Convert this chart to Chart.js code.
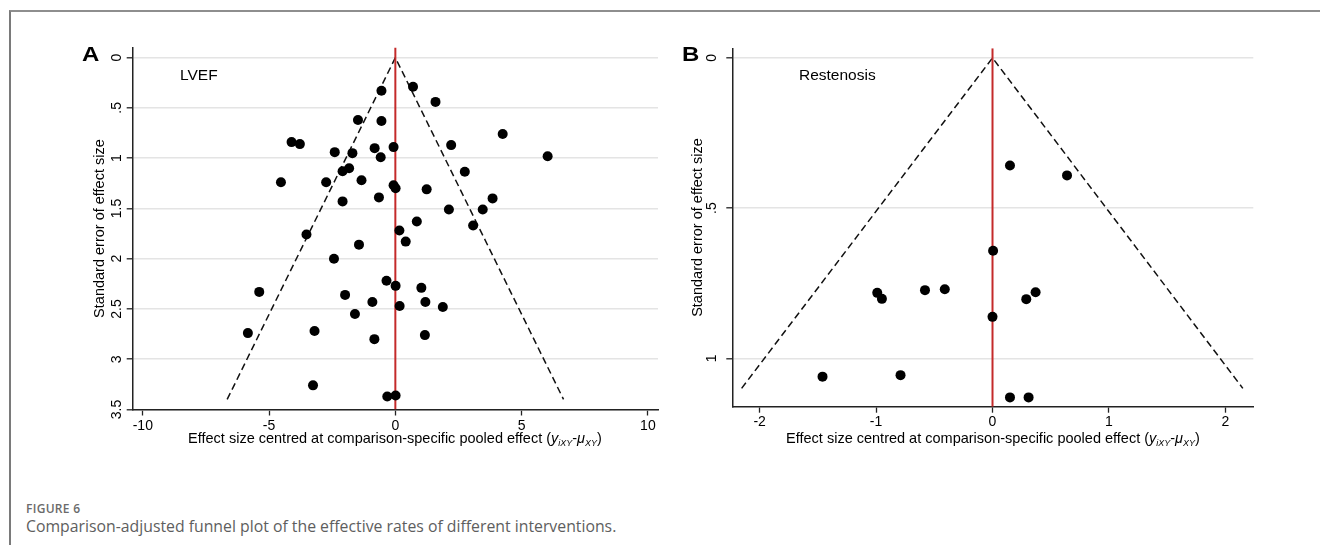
<!DOCTYPE html>
<html>
<head>
<meta charset="utf-8">
<script src="https://cdn.jsdelivr.net/npm/chart.js@4.4.1/dist/chart.umd.min.js"></script>
<style>
  html, body { margin: 0; padding: 0; background: #fff; }
  #fig { position: relative; width: 1320px; height: 545px; overflow: hidden; font-family: "Liberation Sans", Arial, sans-serif; }
  .frame { position: absolute; left: 9px; top: 10px; right: -2px; bottom: -2px; border-top: 2px solid #8e8e8e; border-left: 2px solid #7a7a7a; }
  canvas { position: absolute; top: 0; }
  .panel { position: absolute; font-weight: bold; font-size: 20px; line-height: 1; color: #000; transform: scaleX(1.2); transform-origin: left top; }
  .inner { position: absolute; font-size: 15.5px; line-height: 1; color: #000; }
  .xt { position: absolute; width: 600px; text-align: center; font-size: 14.5px; line-height: 1; color: #000; white-space: nowrap; }
  .xt sub { font-size: 0.62em; vertical-align: -0.35em; line-height: 0; }
  .cap1 { position: absolute; left: 26px; top: 500px; font-family: "Open Sans", sans-serif; font-weight: 600; font-size: 12px; color: #6b6b6b; letter-spacing: 0.3px; }
  .cap2 { position: absolute; left: 26px; top: 515px; font-family: "Open Sans", sans-serif; font-size: 15.8px; color: #5e5e5e; white-space: nowrap; }
</style>
</head>
<body>
<div id="fig">
  <div class="frame"></div>
  <canvas id="chartA" width="670" height="470" style="left:0;width:670px;height:470px"></canvas>
  <canvas id="chartB" width="650" height="470" style="left:670px;width:650px;height:470px"></canvas>
  <div class="panel" style="left:82px;top:44px">A</div>
  <div class="panel" style="left:682px;top:44px">B</div>
  <div class="inner" style="left:180px;top:67px">LVEF</div>
  <div class="inner" style="left:799px;top:67px">Restenosis</div>
  <div class="xt" style="left:95px;top:431px">Effect size centred at comparison-specific pooled effect (<i>y</i><sub><i>iXY</i></sub>-<i>μ</i><sub><i>XY</i></sub>)</div>
  <div class="xt" style="left:693px;top:431px">Effect size centred at comparison-specific pooled effect (<i>y</i><sub><i>iXY</i></sub>-<i>μ</i><sub><i>XY</i></sub>)</div>
  <div class="cap1">FIGURE 6</div>
  <div class="cap2">Comparison-adjusted funnel plot of the effective rates of different interventions.</div>
</div>
<script>
// Panel A - LVEF : effect centred (x) vs standard error (y)
const lvefX  = [-0.55, 0.70, 1.59, -1.48, -0.55, 4.25, -4.11, -3.78, -2.40, -1.70, -0.82, -0.58, -0.07, 2.21, 6.03,
                -1.83, -2.09, 2.75, -4.53, -2.74, -1.34, -0.07, 0.01, 1.24, -2.09, -0.65, 3.85, 2.12, 3.46, 0.85,
                3.08, 0.16, 0.41, -3.52, -1.44, -2.43, -5.39, -0.35, 0.01, 1.03, -1.99, -0.91, 1.19, 0.17, 1.88,
                -1.60, -5.84, -3.20, -0.83, 1.17, -3.26, -0.32, 0.01];
const lvefSE = [0.33, 0.29, 0.44, 0.62, 0.63, 0.76, 0.84, 0.86, 0.94, 0.95, 0.90, 0.99, 0.89, 0.87, 0.98,
                1.10, 1.13, 1.135, 1.24, 1.24, 1.22, 1.27, 1.30, 1.31, 1.43, 1.39, 1.40, 1.51, 1.51, 1.63,
                1.67, 1.72, 1.83, 1.76, 1.86, 2.00, 2.33, 2.22, 2.27, 2.29, 2.36, 2.43, 2.43, 2.47, 2.48,
                2.55, 2.74, 2.72, 2.80, 2.76, 3.26, 3.37, 3.36];

// Panel B - Restenosis
const restX  = [0.15, 0.64, 0.005, -0.99, -0.95, -0.58, -0.41, 0.29, 0.37, 0.0, -1.46, -0.79, 0.15, 0.31];
const restSE = [0.358, 0.391, 0.642, 0.782, 0.802, 0.773, 0.770, 0.803, 0.780, 0.862, 1.061, 1.056, 1.13, 1.13];

// pseudo 95% limits (funnel)
const funnelAX  = [-6.66, 0, 6.66];
const funnelASE = [3.40, 0, 3.40];
const funnelBX  = [-2.155, 0, 2.15];
const funnelBSE = [1.10, 0, 1.10];

// axes
const xTicksA = [-10, -5, 0, 5, 10];
const yTicksA = [0, 0.5, 1, 1.5, 2, 2.5, 3, 3.5];
const xTicksB = [-2, -1, 0, 1, 2];
const yTicksB = [0, 0.5, 1];

const FONT = "'Liberation Sans', Arial, sans-serif";
const stataLabel = v => String(v).replace(/^0\./, ".").replace(/^-0\./, "-.");

function makeFunnel(id, o) {
  const pts = o.xs.map((x, i) => ({ x: x, y: o.ses[i] }));
  const funnel = o.fx.map((x, i) => ({ x: x, y: o.fse[i] }));
  const nullLine = [{ x: 0, y: o.yMin }, { x: 0, y: o.yMax }];

  return new Chart(document.getElementById(id), {
    type: "scatter",
    data: {
      datasets: [
        { data: pts, backgroundColor: "#000", borderWidth: 0, pointRadius: o.r, pointHoverRadius: o.r, order: 0 },
        { type: "line", data: funnel, borderColor: "#111", borderWidth: 1.5, borderDash: [7, 4],
          pointRadius: 0, fill: false, tension: 0, order: 2 },
        { type: "line", data: nullLine, borderColor: "#c42a2a", borderWidth: 2,
          pointRadius: 0, fill: false, order: 1 }
      ]
    },
    options: {
      responsive: false,
      animation: false,
      events: [],
      layout: { padding: o.pad },
      plugins: { legend: { display: false }, tooltip: { enabled: false } },
      scales: {
        x: {
          type: "linear", min: o.xMin, max: o.xMax,
          afterBuildTicks: s => { s.ticks = o.xTicks.map(v => ({ value: v })); },
          afterFit: s => { s.height = o.xH; },
          grid: { drawOnChartArea: false, drawTicks: true, tickLength: 6, tickColor: "#222", tickWidth: 1.3 },
          border: { color: "#222", width: 1.5 },
          ticks: { autoSkip: false, maxRotation: 0, padding: o.xPad, color: "#000",
                   font: { family: FONT, size: 14 }, callback: v => stataLabel(v) }
        },
        y: {
          type: "linear", reverse: true, min: o.yMin, max: o.yMax,
          afterBuildTicks: s => { s.ticks = o.yTicks.map(v => ({ value: v })); },
          afterFit: s => { s.width = o.yW; },
          grid: { color: "#e4e4e4", lineWidth: 1.6, drawTicks: true, tickLength: 6, tickColor: "#222", tickWidth: 1.3 },
          border: { color: "#222", width: 1.5 },
          ticks: { autoSkip: false, minRotation: 90, maxRotation: 90, crossAlign: "center", padding: o.yPad,
                   color: "#000", font: { family: FONT, size: 14 }, callback: v => stataLabel(v) },
          title: { display: true, text: "Standard error of effect size", color: "#000",
                   font: { family: FONT, size: 14.5 }, padding: { top: o.titlePad, bottom: 0 } }
        }
      }
    }
  });
}

makeFunnel("chartA", {
  xs: lvefX, ses: lvefSE, fx: funnelAX, fse: funnelASE, r: 5,
  xMin: -10.4, xMax: 10.4, yMin: -0.1, yMax: 3.5, xTicks: xTicksA, yTicks: yTicksA,
  pad: { left: 0, top: 47.6, right: 12, bottom: 0 }, yW: 132.7, xH: 60.5,
  xPad: 2, yPad: 0, titlePad: 91.3
});

makeFunnel("chartB", {
  xs: restX, ses: restSE, fx: funnelBX, fse: funnelBSE, r: 5,
  xMin: -2.235, xMax: 2.24, yMin: -0.032, yMax: 1.161, xTicks: xTicksB, yTicks: yTicksB,
  pad: { left: 0, top: 48.3, right: 66.7, bottom: 0 }, yW: 62.3, xH: 63.3,
  xPad: 1, yPad: 8, titlePad: 19.6
});
</script>
</body>
</html>
